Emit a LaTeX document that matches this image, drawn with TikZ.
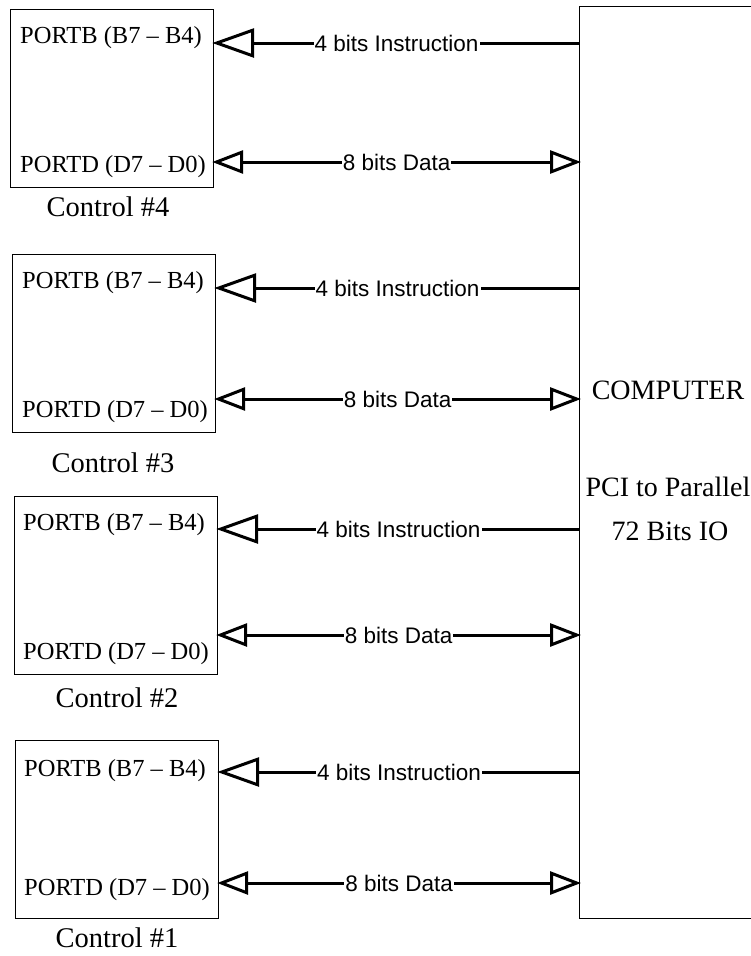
\documentclass[tikz,border=0pt]{standalone}
\usepackage{fontspec}
\setmainfont{Liberation Serif}
\setsansfont{Liberation Sans}
\usetikzlibrary{arrows.meta}
\begin{document}
\begin{tikzpicture}[x=1pt,y=-1pt,
  ctrlbox/.style={draw, line width=1.2pt, minimum width=203pt, minimum height=178pt, anchor=north west, inner sep=0pt},
  compbox/.style={draw, line width=1.4pt, minimum width=260pt, minimum height=912pt, anchor=north west, inner sep=0pt},
  port/.style={font=\fontsize{24.5}{27}\selectfont, anchor=west, inner sep=0pt},
  ctrllabel/.style={font=\fontsize{28.5}{32}\selectfont, inner sep=0pt},
  comptext/.style={font=\fontsize{28}{32}\selectfont, inner sep=0pt},
  buslabel/.style={font=\sffamily\fontsize{22.5}{25}\selectfont, fill=white, inner sep=1pt},
  bus/.style={line width=3pt},
  insarrow/.style={bus, shorten <=-2pt, {Triangle[open,length=42pt,width=29pt]}-},
  dataarrow/.style={bus, shorten <=-2pt, shorten >=-2pt, {Triangle[open,length=31pt,width=23pt]}-{Triangle[open,length=31pt,width=23pt]}},
]
\useasboundingbox (0,0) rectangle (751,956);
\clip (0,0) rectangle (751,956);

% computer
\node[compbox] (pc) at (579,6) {};
\node[comptext] (t1) at (668,390) {COMPUTER};
\node[comptext] (t2) at (668,487) {PCI to Parallel};
\node[comptext] (t3) at (670,531) {72 Bits IO};

% control boxes
\node[ctrlbox] (c4) at (10,9) {};
\node[ctrlbox] (c3) at (12,254) {};
\node[ctrlbox] (c2) at (14,496) {};
\node[ctrlbox] (c1) at (15,740) {};

% port labels
\node[port] (c4b) at (20,38) {PORTB (B7 – B4)};
\node[port] (c4d) at (20,167) {PORTD (D7 – D0)};
\node[port] (c3b) at (22,283) {PORTB (B7 – B4)};
\node[port] (c3d) at (22,412) {PORTD (D7 – D0)};
\node[port] (c2b) at (23,525) {PORTB (B7 – B4)};
\node[port] (c2d) at (23,654) {PORTD (D7 – D0)};
\node[port] (c1b) at (24,771) {PORTB (B7 – B4)};
\node[port] (c1d) at (24,890) {PORTD (D7 – D0)};

% control captions
\node[ctrllabel] (l4) at (108,207) {Control \#4};
\node[ctrllabel] (l3) at (113,463) {Control \#3};
\node[ctrllabel] (l2) at (117,698) {Control \#2};
\node[ctrllabel] (l1) at (117,938) {Control \#1};

% connector end points on the control boxes
\coordinate (i4) at ([yshift=-34pt]c4.north east);
\coordinate (d4) at ([yshift=-153pt]c4.north east);
\coordinate (i3) at ([yshift=-34pt]c3.north east);
\coordinate (d3) at ([yshift=-145pt]c3.north east);
\coordinate (i2) at ([yshift=-33pt]c2.north east);
\coordinate (d2) at ([yshift=-139pt]c2.north east);
\coordinate (i1) at ([yshift=-32pt]c1.north east);
\coordinate (d1) at ([yshift=-143pt]c1.north east);

% buses
\foreach \k in {4,3,2,1}{
  \draw[insarrow] (i\k) -- (pc.west |- i\k) node[buslabel,pos=0.5] {4 bits Instruction};
  \draw[dataarrow] (d\k) -- (pc.west |- d\k) node[buslabel,pos=0.5] {8 bits Data};
}
\end{tikzpicture}
\end{document}
